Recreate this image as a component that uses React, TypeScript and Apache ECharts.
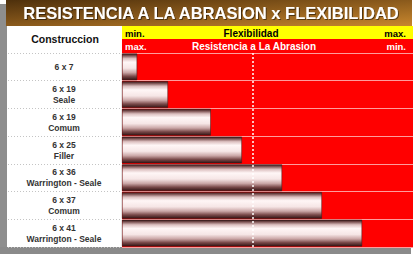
import React, { useEffect, useRef } from "react";
import * as echarts from "echarts";

const title = "RESISTENCIA A LA ABRASION x FLEXIBILIDAD";
const headerLabel = "Construccion";
const flexLabels = ["min.", "Flexibilidad", "max."];
const abrasionLabels = ["max.", "Resistencia a La Abrasion", "min."];
const categories = [
  "6 x 7",
  "6 x 19\nSeale",
  "6 x 19\nComum",
  "6 x 25\nFiller",
  "6 x 36\nWarrington - Seale",
  "6 x 37\nComum",
  "6 x 41\nWarrington - Seale",
];
const values = [5.2, 15.8, 30.5, 41.2, 55, 68.7, 82.5];
const midValue = 45;

const FONT = "'Liberation Sans', Arial, sans-serif";

export default function App() {
  const ref = useRef<HTMLDivElement>(null);
  useEffect(() => {
    document.body.style.margin = "0";
    const chart = echarts.init(ref.current!, null, { renderer: "svg" });
    const barGrad = new echarts.graphic.LinearGradient(0, 0, 0, 1, [
      { offset: 0, color: "#341818" },
      { offset: 0.07, color: "#7c5252" },
      { offset: 0.18, color: "#dcc0c0" },
      { offset: 0.32, color: "#fff6f6" },
      { offset: 0.55, color: "#f6e6e6" },
      { offset: 0.72, color: "#caa6a6" },
      { offset: 0.86, color: "#7a4a4a" },
      { offset: 1, color: "#321414" },
    ]);
    chart.setOption({
      animation: false,
      backgroundColor: "#ffffff",
      graphic: [
        { type: "rect", shape: { x: 0, y: 4, width: 7, height: 250 }, style: { fill: "#8e8e8e" }, z: 0 },
        { type: "rect", shape: { x: 0, y: 247, width: 411, height: 7 }, style: { fill: "#8a8a8a" }, z: 0 },
        {
          type: "rect",
          shape: { x: 6, y: 0, width: 406, height: 26 },
          style: {
            fill: new echarts.graphic.LinearGradient(0, 0, 1, 1, [
              { offset: 0, color: "#4e300c" },
              { offset: 0.5, color: "#8a5a1c" },
              { offset: 1, color: "#c8872e" },
            ]),
          },
          z: 1,
        },
        {
          type: "text",
          x: 211,
          y: 13,
          style: {
            text: title,
            fill: "#ffffff",
            font: `bold 16.5px ${FONT}`,
            textAlign: "center",
            textVerticalAlign: "middle",
            textShadowColor: "rgba(0,0,0,0.5)",
            textShadowBlur: 1,
            textShadowOffsetX: 1,
            textShadowOffsetY: 1,
          },
          z: 2,
        },
        { type: "rect", shape: { x: 7, y: 26, width: 115, height: 27 }, style: { fill: "#ffffff" }, z: 1 },
        { type: "rect", shape: { x: 122, y: 26, width: 291, height: 13 }, style: { fill: "#ffff00" }, z: 1 },
        { type: "rect", shape: { x: 122, y: 39, width: 291, height: 14 }, style: { fill: "#ff0000" }, z: 1 },
        {
          type: "text", x: 65, y: 39,
          style: { text: headerLabel, fill: "#111", font: `bold 10.5px ${FONT}`, textAlign: "center", textVerticalAlign: "middle" },
          z: 2,
        },
        { type: "text", x: 125, y: 33, style: { text: flexLabels[0], fill: "#000", font: `bold 9.5px ${FONT}`, textAlign: "left", textVerticalAlign: "middle" }, z: 2 },
        { type: "text", x: 251, y: 33, style: { text: flexLabels[1], fill: "#000", font: `bold 10px ${FONT}`, textAlign: "center", textVerticalAlign: "middle" }, z: 2 },
        { type: "text", x: 406, y: 33, style: { text: flexLabels[2], fill: "#000", font: `bold 9.5px ${FONT}`, textAlign: "right", textVerticalAlign: "middle" }, z: 2 },
        { type: "text", x: 125, y: 46, style: { text: abrasionLabels[0], fill: "#fff", font: `bold 9.5px ${FONT}`, textAlign: "left", textVerticalAlign: "middle" }, z: 2 },
        { type: "text", x: 254, y: 46, style: { text: abrasionLabels[1], fill: "#fff", font: `bold 10px ${FONT}`, textAlign: "center", textVerticalAlign: "middle" }, z: 2 },
        { type: "text", x: 406, y: 46, style: { text: abrasionLabels[2], fill: "#fff", font: `bold 9.5px ${FONT}`, textAlign: "right", textVerticalAlign: "middle" }, z: 2 },
      ],
      grid: [
        { left: 122, right: 2, top: 53, bottom: 7, show: true, backgroundColor: "#ff0000", borderWidth: 0 },
        { left: 8, width: 114, top: 53, bottom: 7, show: false },
      ],
      xAxis: [
        { type: "value", gridIndex: 0, min: 0, max: 100, show: false },
        { type: "value", gridIndex: 1, min: 0, max: 100, show: false },
      ],
      yAxis: [
        {
          type: "category",
          gridIndex: 0,
          data: categories,
          inverse: true,
          axisLine: { show: false },
          axisTick: { show: false },
          splitLine: { show: true, lineStyle: { color: "#ff9c9c", width: 1 } },
          axisLabel: {
            margin: 58,
            align: "center",
            color: "#333",
            fontFamily: FONT,
            fontWeight: "bold",
            fontSize: 8.5,
            lineHeight: 11,
          },
        },
        {
          type: "category",
          gridIndex: 1,
          data: categories,
          inverse: true,
          axisLine: { show: false },
          axisTick: { show: false },
          axisLabel: { show: false },
          splitLine: { show: true, lineStyle: { color: "#c4c4c4", type: [1, 2], width: 1 } },
        },
      ],
      series: [
        {
          type: "bar",
          xAxisIndex: 0,
          yAxisIndex: 0,
          data: values,
          barCategoryGap: "4%",
          itemStyle: { color: barGrad, borderColor: "#3a1c1c", borderWidth: 0.5 },
          markLine: {
            silent: true,
            symbol: "none",
            label: { show: false },
            lineStyle: { color: "#ffffff", type: [2, 2], width: 1.5 },
            data: [{ xAxis: midValue }],
            z: 5,
          },
          z: 3,
        },
      ],
    });
    return () => chart.dispose();
  }, []);
  return <div ref={ref} style={{ width: 415, height: 254, position: "absolute", left: 0, top: 0 }} />;
}
